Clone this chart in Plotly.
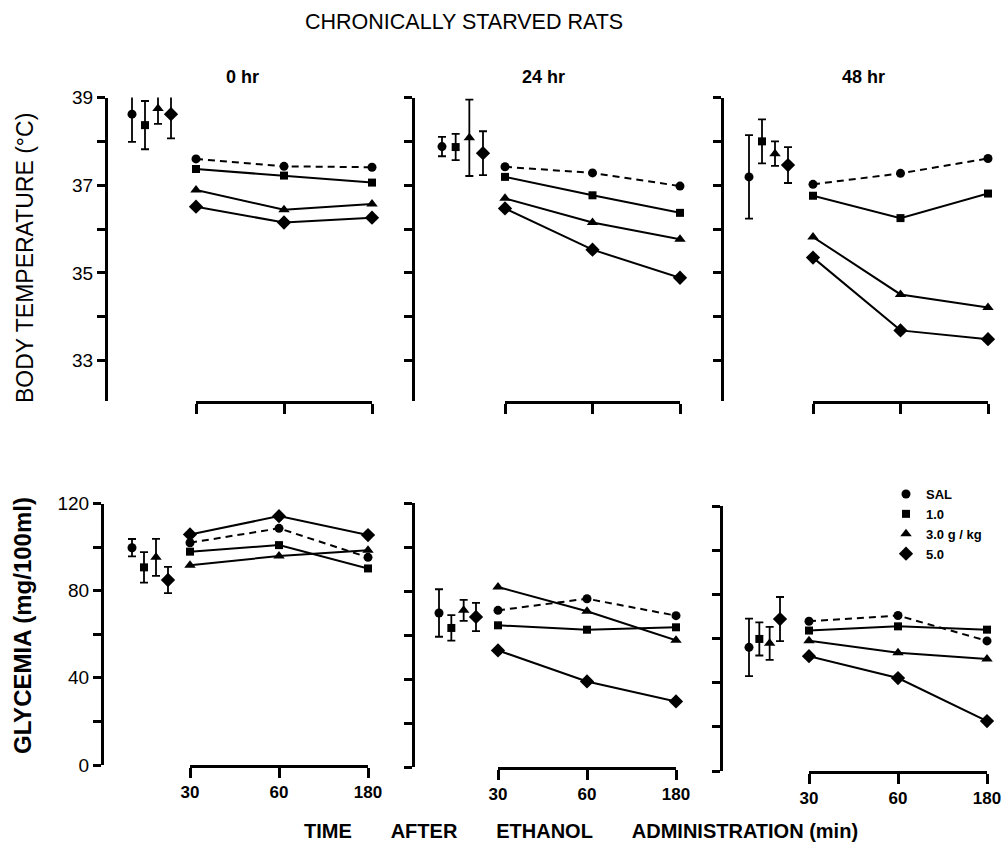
import plotly.graph_objects as go

# ---------------- data ----------------
groups = ["SAL", "1.0", "3.0 g / kg", "5.0"]
times = ["30", "60", "180"]
panel_titles = ["0 hr", "24 hr", "48 hr"]

# Body temperature (deg C): baseline mean / error, then post-ethanol values per group
temp_pre_0hr = [38.62, 38.37, 38.75, 38.62]
temp_pre_err_0hr = [0.63, 0.55, 0.35, 0.55]
temp_pre_24hr = [37.88, 37.87, 38.08, 37.73]
temp_pre_err_24hr = [0.22, 0.30, 0.87, 0.50]
temp_pre_48hr = [37.19, 38.00, 37.72, 37.46]
temp_pre_err_48hr = [0.95, 0.50, 0.28, 0.41]

temp_0hr_sal = [37.60, 37.43, 37.41]
temp_0hr_10 = [37.37, 37.22, 37.06]
temp_0hr_30 = [36.89, 36.44, 36.57]
temp_0hr_50 = [36.51, 36.15, 36.26]

temp_24hr_sal = [37.42, 37.28, 36.98]
temp_24hr_10 = [37.19, 36.77, 36.37]
temp_24hr_30 = [36.70, 36.15, 35.77]
temp_24hr_50 = [36.47, 35.53, 34.89]

temp_48hr_sal = [37.02, 37.27, 37.61]
temp_48hr_10 = [36.76, 36.25, 36.81]
temp_48hr_30 = [35.82, 34.51, 34.21]
temp_48hr_50 = [35.35, 33.69, 33.49]

# Glycemia (mg/100ml)
gly_pre_0hr = [99.7, 90.7, 95.3, 84.9]
gly_pre_err_0hr = [4.0, 7.0, 8.5, 6.0]
gly_pre_24hr = [70.0, 63.2, 71.2, 68.2]
gly_pre_err_24hr = [10.8, 5.8, 4.8, 6.4]
gly_pre_48hr = [56.0, 59.8, 57.8, 68.8]
gly_pre_err_48hr = [13.0, 7.5, 7.5, 10.0]

gly_0hr_sal = [102.0, 108.6, 95.3]
gly_0hr_10 = [97.9, 100.9, 90.2]
gly_0hr_30 = [91.7, 95.9, 98.6]
gly_0hr_50 = [105.8, 114.2, 105.5]

gly_24hr_sal = [71.2, 76.5, 68.8]
gly_24hr_10 = [64.4, 62.4, 63.5]
gly_24hr_30 = [81.8, 70.8, 57.6]
gly_24hr_50 = [53.0, 38.9, 29.8]

gly_48hr_sal = [67.8, 70.4, 58.9]
gly_48hr_10 = [63.6, 65.5, 64.0]
gly_48hr_30 = [59.0, 53.5, 50.7]
gly_48hr_50 = [52.0, 42.1, 22.6]

temp_ticks = [33, 34, 35, 36, 37, 38, 39]
temp_ticktext = ["33", "", "35", "", "37", "", "39"]
gly_ticks = [0, 20, 40, 60, 80, 100, 120]
gly_ticktext = ["0", "", "40", "", "80", "", "120"]

# ---------------- assembly ----------------
panels_data = [
    (temp_pre_0hr, temp_pre_err_0hr, [temp_0hr_sal, temp_0hr_10, temp_0hr_30, temp_0hr_50]),
    (temp_pre_24hr, temp_pre_err_24hr, [temp_24hr_sal, temp_24hr_10, temp_24hr_30, temp_24hr_50]),
    (temp_pre_48hr, temp_pre_err_48hr, [temp_48hr_sal, temp_48hr_10, temp_48hr_30, temp_48hr_50]),
    (gly_pre_0hr, gly_pre_err_0hr, [gly_0hr_sal, gly_0hr_10, gly_0hr_30, gly_0hr_50]),
    (gly_pre_24hr, gly_pre_err_24hr, [gly_24hr_sal, gly_24hr_10, gly_24hr_30, gly_24hr_50]),
    (gly_pre_48hr, gly_pre_err_48hr, [gly_48hr_sal, gly_48hr_10, gly_48hr_30, gly_48hr_50]),
]

W, H = 1006, 842
FONT = "Liberation Sans"


def fx(p):
    return p / W


def fy(p):
    return 1 - p / H


# geometry in pixels: y-axis line x, (first, last) baseline x, (30, 180) x, (top, bottom) y
geom = [
    dict(ax=106, pre=(132, 171), post=(196, 372), yd=(97.5, 401)),
    dict(ax=413, pre=(442, 483), post=(505, 680), yd=(97.5, 401)),
    dict(ax=722, pre=(749, 788), post=(813, 988), yd=(97.5, 401)),
    dict(ax=102, pre=(132, 168), post=(190, 368), yd=(503.5, 765)),
    dict(ax=413, pre=(439, 476), post=(498, 676), yd=(503, 767)),
    dict(ax=721, pre=(749, 780), post=(809, 987), yd=(506, 771)),
]

symbols = ["circle", "square", "triangle-up", "diamond"]
msizes = [9, 8, 10, 11]
dashes = ["7px,5px", "solid", "solid", "solid"]

fig = go.Figure()
layout = dict(
    width=W, height=H,
    margin=dict(l=0, r=0, t=0, b=0, autoexpand=False),
    paper_bgcolor="white", plot_bgcolor="rgba(0,0,0,0)",
    font=dict(family=FONT, color="black"),
    showlegend=True,
    legend=dict(x=fx(886), y=fy(479), xanchor="left", yanchor="top",
                font=dict(family=FONT, size=13, weight="bold", color="black"),
                itemwidth=30, bgcolor="rgba(0,0,0,0)", tracegroupgap=0),
)

for k, (pre, pre_err, posts) in enumerate(panels_data):
    g = geom[k]
    top_row = k < 3
    yid = "y" if k == 0 else f"y{k + 1}"
    ykey = "yaxis" if k == 0 else f"yaxis{k + 1}"
    xpost = f"x{2 * k + 1}" if k else "x"
    xpost_key = f"xaxis{2 * k + 1}" if k else "xaxis"
    xpre = f"x{2 * k + 2}"
    xpre_key = f"xaxis{2 * k + 2}"

    if top_row:
        yr = [32.08, 39]
        tv, tt = temp_ticks, (temp_ticktext if k == 0 else [""] * 7)
    else:
        yr = [0, 120]
        tv, tt = gly_ticks, (gly_ticktext if k == 3 else [""] * 7)

    layout[ykey] = dict(
        domain=[fy(g["yd"][1]), fy(g["yd"][0])], range=yr,
        anchor="free", position=fx(g["ax"]),
        showline=True, linewidth=3, linecolor="black",
        ticks="outside", ticklen=8, tickwidth=2.5, tickcolor="black",
        tickvals=tv, ticktext=tt, showgrid=False, zeroline=False,
        tickfont=dict(family=FONT, size=19, color="black"),
    )
    layout[xpost_key] = dict(
        domain=[fx(g["post"][0]), fx(g["post"][1])],
        type="category", categoryorder="array", categoryarray=times,
        range=[0, 2], anchor=yid,
        showline=True, linewidth=3, linecolor="black",
        ticks="outside", ticklen=10, tickwidth=2.5, tickcolor="black",
        showticklabels=not top_row, showgrid=False, zeroline=False,
        tickfont=dict(family=FONT, size=17, weight="bold", color="black"),
    )
    step = (g["pre"][1] - g["pre"][0]) / 3
    layout[xpre_key] = dict(
        domain=[fx(g["pre"][0] - step / 2), fx(g["pre"][1] + step / 2)],
        type="category", categoryorder="array", categoryarray=groups,
        range=[-0.5, 3.5], anchor=yid, visible=False,
    )

    for i, grp in enumerate(groups):
        fig.add_trace(go.Scatter(
            x=[grp], y=[pre[i]], xaxis=xpre, yaxis=yid,
            mode="markers", name=grp, showlegend=(k == 5),
            marker=dict(symbol=symbols[i], size=msizes[i], color="black"),
            error_y=dict(type="data", array=[pre_err[i]], color="black",
                         thickness=1.8, width=4),
            cliponaxis=False,
        ))
        fig.add_trace(go.Scatter(
            x=times, y=posts[i], xaxis=xpost, yaxis=yid,
            mode="lines+markers", name=grp, showlegend=False,
            line=dict(color="black", width=2, dash=dashes[i]),
            marker=dict(symbol=symbols[i], size=msizes[i], color="black"),
            cliponaxis=False,
        ))

gap = "\u00a0" * 7
annotations = [
    dict(text="CHRONICALLY STARVED RATS", x=fx(464), y=fy(22), showarrow=False,
         font=dict(family=FONT, size=21.5, color="black")),
    dict(text="BODY TEMPERATURE (°C)", x=fx(25), y=fy(258), textangle=-90, showarrow=False,
         font=dict(family=FONT, size=23, color="black")),
    dict(text="GLYCEMIA (mg/100ml)", x=fx(22), y=fy(626), textangle=-90, showarrow=False,
         font=dict(family=FONT, size=24, weight="bold", color="black")),
    dict(text="TIME" + gap + "AFTER" + gap + "ETHANOL" + gap + "ADMINISTRATION (min)",
         x=fx(581), y=fy(831), showarrow=False,
         font=dict(family=FONT, size=20, weight="bold", color="black")),
]
for t, cx in zip(panel_titles, [242, 543, 863]):
    annotations.append(dict(text=t, x=fx(cx), y=fy(77), showarrow=False,
                            font=dict(family=FONT, size=18, weight="bold", color="black")))
for a in annotations:
    a.update(xref="paper", yref="paper", xanchor="center", yanchor="middle")
layout["annotations"] = annotations

fig.update_layout(**layout)
fig.write_html(
    "out.html",
    config={"displayModeBar": False},
    post_script="document.body.style.margin='0px';document.body.style.overflow='hidden';",
)
